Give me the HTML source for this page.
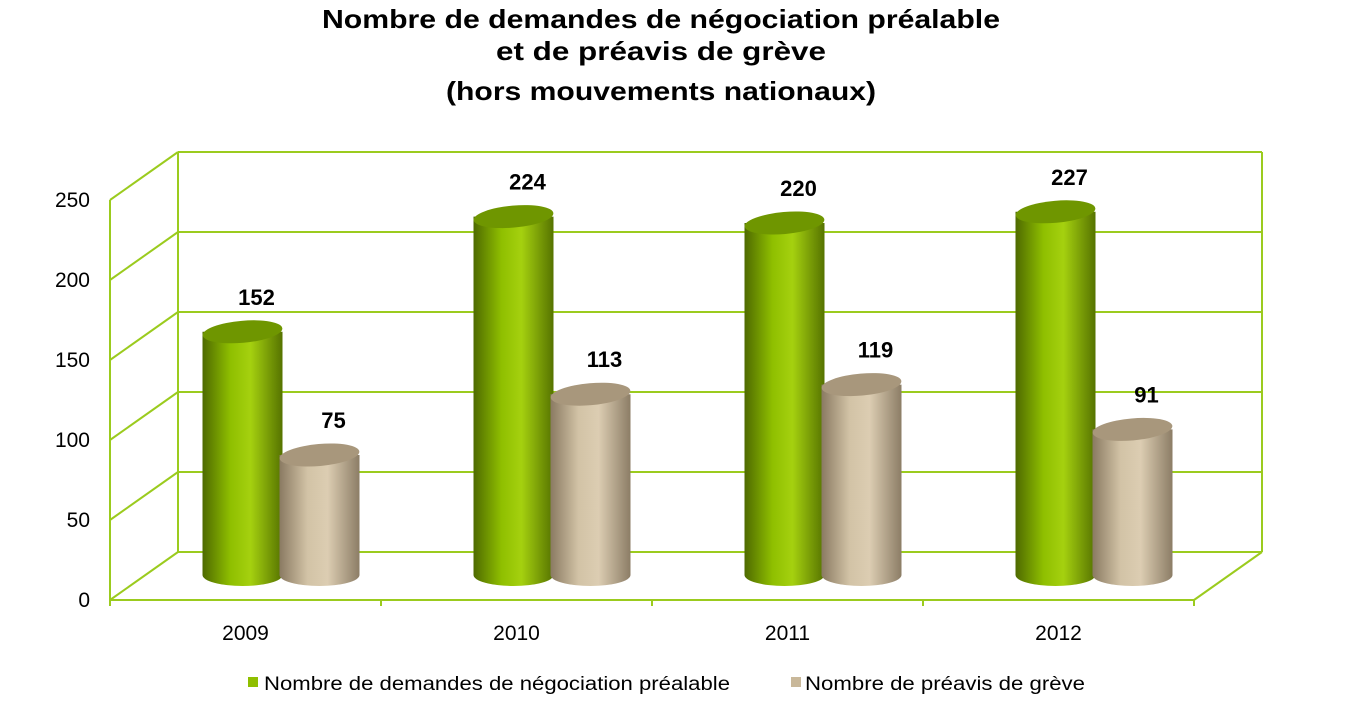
<!DOCTYPE html>
<html><head><meta charset="utf-8"><style>
body{margin:0;background:#fff;}
svg{display:block;font-family:"Liberation Sans",Arial,sans-serif;}
</style></head><body>
<svg id="chart" width="1348" height="719" viewBox="0 0 1348 719">
<defs>
<linearGradient id="gG" x1="0" x2="1" y1="0" y2="0">
<stop offset="0" stop-color="#4e6a00"/><stop offset="0.35" stop-color="#8fbf00"/><stop offset="0.6" stop-color="#a5d10f"/><stop offset="1" stop-color="#567300"/></linearGradient>
<linearGradient id="gT" x1="0" x2="1" y1="0" y2="0">
<stop offset="0" stop-color="#8a7a62"/><stop offset="0.35" stop-color="#d2c3a6"/><stop offset="0.6" stop-color="#dccdb2"/><stop offset="1" stop-color="#8c7d66"/></linearGradient>
</defs>
<g font-weight="bold" font-size="26" text-anchor="middle" fill="#000">
<text x="661" y="28" textLength="678" lengthAdjust="spacingAndGlyphs">Nombre de demandes de négociation préalable</text>
<text x="661" y="60" textLength="330" lengthAdjust="spacingAndGlyphs">et de préavis de grève</text>
<text x="661" y="100" textLength="430" lengthAdjust="spacingAndGlyphs">(hors mouvements nationaux)</text>
</g>
<g id="grid"></g>
<g id="bars"></g>
<g id="legend" font-size="19" fill="#000">
<rect x="248" y="677" width="10" height="10" fill="#8fbf00"/>
<text x="264" y="690" textLength="466" lengthAdjust="spacingAndGlyphs">Nombre de demandes de négociation préalable</text>
<rect x="791" y="677" width="10" height="10" fill="#c9b89a"/>
<text x="805" y="690" textLength="280" lengthAdjust="spacingAndGlyphs">Nombre de préavis de grève</text>
</g>
</svg>
<script>
const categories=["2009","2010","2011","2012"];
const negociation=[152,224,220,227];
const preavis=[75,113,119,91];
const ticks=[0,50,100,150,200,250];

const NS="http://www.w3.org/2000/svg";
function mk(t,a,p){const e=document.createElementNS(NS,t);for(const k in a)e.setAttribute(k,a[k]);p.appendChild(e);return e;}
const maxV=250, backX0=178, backX1=1262, backY0=552, backTop=152, dx=-68, dy=48;
function yBack(v){return backY0-(v/maxV)*(backY0-backTop);}
function yMid(v){return 575-(v/maxV)*400;}
const grid=document.getElementById('grid');
const gc="#9bcb1e";
ticks.forEach(t=>{
 const y=yBack(t);
 const l=mk('line',{x1:backX0,y1:y,x2:backX1,y2:y,stroke:gc,'stroke-width':2},grid);
 
 
 const s=mk('line',{x1:backX0+dx,y1:y+dy,x2:backX0,y2:y,stroke:gc,'stroke-width':2},grid);
 
 
 const lb=mk('text',{x:90,y:y+dy+7,'font-size':21,'text-anchor':'end',fill:'#000'},grid);
 lb.textContent=t;
 
 
});
mk('line',{x1:backX0,y1:backTop,x2:backX0,y2:backY0,stroke:gc,'stroke-width':2},grid);
mk('line',{x1:backX1,y1:backTop,x2:backX1,y2:backY0,stroke:gc,'stroke-width':2},grid);
mk('line',{x1:backX0+dx,y1:backTop+dy,x2:backX0+dx,y2:backY0+dy,stroke:gc,'stroke-width':2},grid);
mk('line',{x1:backX1,y1:backY0,x2:backX1+dx,y2:backY0+dy,stroke:gc,'stroke-width':2},grid);
mk('line',{x1:backX0+dx,y1:backY0+dy,x2:backX1+dx,y2:backY0+dy,stroke:gc,'stroke-width':2},grid);
const n=categories.length, fx0=backX0+dx, fw=(backX1-backX0)/n;
for(let i=0;i<=n;i++){mk('line',{x1:fx0+i*fw,y1:600,x2:fx0+i*fw,y2:606,stroke:gc,'stroke-width':2},grid);}
const bars=document.getElementById('bars');
function cyl(cx,v,fill,topc,name){
 const rx=40, ry=11, yb=yMid(0), yt=yMid(v);
 const g=mk('g',{},bars);
 
 
 mk('path',{d:`M${cx-rx},${yt} L${cx-rx},${yb} A${rx},${ry} 0 0 0 ${cx+rx},${yb} L${cx+rx},${yt} Z`,fill:fill},g);
 mk('ellipse',{cx:cx,cy:yt,rx:rx,ry:ry,fill:topc,transform:`rotate(-5 ${cx} ${yt})`},g);
 const t=mk('text',{x:cx+14,y:yt-27,'font-size':22,'font-weight':'bold','text-anchor':'middle',fill:'#000'},g);
 t.textContent=v;
 
 
}
categories.forEach((c,i)=>{
 const base=fx0+i*fw+fw/2;
 cyl(base-3,negociation[i],'url(#gG)','#6f9600','bar-negociation-'+c);
 cyl(base+74,preavis[i],'url(#gT)','#a8977c','bar-preavis-'+c);
 const t=mk('text',{x:base,y:640,'font-size':21,'text-anchor':'middle',fill:'#000'},bars);
 t.textContent=c;
 
 
});
</script>
</body></html>
